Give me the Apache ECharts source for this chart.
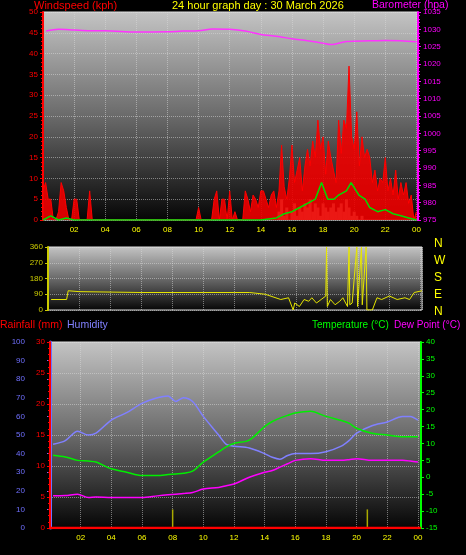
<!DOCTYPE html>
<html>
<head>
<meta charset="utf-8">
<script src="https://cdn.jsdelivr.net/npm/echarts@6/dist/echarts.min.js"></script>
<style>
  html, body { margin: 0; padding: 0; background: #000; }
  #chart { width: 466px; height: 555px; }
</style>
</head>
<body>
<div id="chart"></div>
<script>
// ---------------- data ----------------

// wind gust, one value every 10 minutes from 00:00 (kph)
const gust = [
    7, 9, 5, 5, 0, 0,
    2, 9, 7, 3, 0, 0,
    5, 5, 0, 0, 0, 0,
    7, 0, 0, 0, 0, 0,
    0, 0, 0, 0, 0, 0,
    0, 0, 0, 0, 0, 0,
    0, 0, 0, 0, 0, 0,
    0, 0, 0, 0, 0, 0,
    0, 0, 0, 0, 0, 0,
    0, 0, 0, 0, 0, 0,
    3, 0, 0, 0, 0, 0,
    5, 7, 0, 5, 5, 0,
    7, 0, 2, 0, 0, 0,
    7, 5, 2, 6, 5, 3,
    7, 7, 5, 3, 6, 7,
    3, 7, 18, 8, 5, 10,
    18, 9, 12, 15, 7, 13,
    17, 13, 19, 15, 24, 17,
    20, 11, 19, 15, 12, 9,
    24, 16, 24, 22, 37, 20,
    17, 26, 13, 20, 15, 17,
    15, 9, 12, 7, 10, 9,
    15, 7, 10, 6, 12, 5,
    9, 6, 9, 4, 6, 0,
    2,
];

// average wind speed bars, every 10 minutes from 15:00
const avgBars = [
    0, 2, 5, 1, 3, 0,
    2, 4, 1, 3, 2, 4,
    3, 5, 2, 4, 3, 1,
    4, 3, 2, 3, 4, 2,
    3, 4, 2, 5, 3, 1,
    2, 1, 0, 1, 0, 0,
];

const windAvgHours = [0, 0.5, 1, 1.5, 2, 14, 15, 15.5, 16, 16.5, 17, 17.5, 17.9, 18.3, 18.7, 19, 19.5, 19.8, 20.3, 20.7, 21, 21.5, 22, 22.5, 23, 23.5, 24];
const windAvg      = [0, 1, 0, 0.5, 0, 0, 0.5, 1.5, 2, 3, 4, 5, 9, 5, 5, 6, 7, 9, 6, 5, 3, 2, 2.5, 1.5, 1, 0.5, 0];

const baroHours = [0.2, 1, 2, 3, 4, 6, 8, 9, 10, 10.9, 12, 13, 14, 15, 16, 17, 18, 18.5, 19.5, 21, 22, 23, 24];
const baro      = [1029.5, 1030, 1029.8, 1029.6, 1029.6, 1029.2, 1029.3, 1029.5, 1029.6, 1030.1, 1030, 1029.5, 1028.5, 1028, 1027.3, 1026.7, 1026, 1025.6, 1026.5, 1026.7, 1026.8, 1026.7, 1026.4];

const dirHours = [0.2, 1.2, 1.3, 2, 6, 10, 12, 13, 14, 15, 15.5, 15.8, 15.9, 16.2, 16.5, 16.8, 17, 17.3, 17.6, 17.9, 17.95, 18.0, 18.2, 18.5, 18.8, 19.0, 19.3, 19.4, 19.45, 19.6, 19.9, 19.95, 20.0, 20.2, 20.25, 20.3, 20.5, 20.55, 20.6, 20.9, 21.2, 21.5, 22, 22.5, 23, 23.3, 23.6, 24.1];
const dirs     = [60, 60, 110, 105, 100, 100, 100, 100, 90, 60, 70, 0, 40, 20, 60, 50, 70, 40, 60, 80, 360, 20, 60, 30, 50, 70, 20, 360, 30, 40, 360, 20, 10, 360, 30, 20, 360, 0, 10, 0, 70, 60, 80, 60, 70, 60, 100, 110];

const bottomHours = [0.2, 1, 1.8, 2.5, 3, 4, 5, 6, 7, 7.7, 8.2, 8.7, 9.3, 10, 11, 11.5, 12, 13, 14, 14.5, 15, 15.5, 16, 17, 18, 19, 19.5, 20, 21, 22, 23, 23.5, 24];
const humidity    = [45, 47, 52, 50, 51, 58, 62, 67, 70, 71, 68, 70, 68, 60, 50, 45, 44, 43, 40, 38, 37, 39, 40, 40, 41, 44, 47, 51, 55, 57, 60, 60, 58];
const temp        = [6.5, 6, 5, 4.8, 4.5, 2.5, 1.5, 0.5, 0.5, 0.8, 1, 1.2, 1.8, 4.5, 7.5, 9, 10, 11, 15, 16.5, 17.5, 18.3, 19, 19.5, 18, 16.8, 16, 14.5, 13, 12.5, 12, 12, 12];
const dewPoint    = [-5.5, -5.4, -5, -6, -5.8, -6, -6, -6, -5.5, -5.2, -5, -4.8, -4.5, -3.5, -3, -2.5, -2, 0, 1.5, 2, 3, 4, 5, 5.5, 5, 5, 5.2, 5.5, 5, 5, 5, 4.8, 4.5];
const rainMarkHours = [8, 20.7];
const rainMarks     = [10, 10];

// ---------------- helpers ----------------

const pairs = (xs, ys) => xs.map((x, i) => [x, ys[i]]);
const everyTen = (vals, start) => vals.map((v, i) => [start + i / 6, v]);
const hourLabel = (v) => String(v % 24).padStart(2, "0");

const bg = {
    type: "linear", x: 0, y: 0, x2: 0, y2: 1,
    colorStops: [{ offset: 0, color: "#c4c4c4" }, { offset: 0.5, color: "#6a6a6a" }, { offset: 1, color: "#050505" }],
};
const dotted = { color: "rgba(220,220,220,0.5)", type: "dotted", width: 1 };
const font = "Liberation Sans, Arial, sans-serif";

function title(text, left, top, color, size = 11) {
    return { text, left, top, padding: 0, textStyle: { color, fontSize: size, fontWeight: "normal", fontFamily: font } };
}

function xAxis(gridIndex, min, max, show) {
    return {
        type: "value", gridIndex, min, max, interval: 2,
        axisLine: { show: false },
        axisTick: { show: false },
        axisLabel: { show, color: "#ffff00", fontSize: 8, fontFamily: font, formatter: (v) => (v === 0 ? "" : hourLabel(v)), margin: 6 },
        splitLine: { show: true, lineStyle: dotted },
    };
}

function yAxis(gridIndex, opts) {
    return Object.assign({
        type: "value", gridIndex,
        axisLine: { show: true, lineStyle: { color: opts.color, width: 2 } },
        axisTick: { show: true, length: 3, lineStyle: { color: opts.color } },
        minorTick: { show: true, splitNumber: 5, length: 2, lineStyle: { color: opts.color } },
        axisLabel: { color: opts.color, fontSize: 8, fontFamily: font, margin: 5, formatter: (v) => String(v) },
        splitLine: { show: false },
    }, opts.extra);
}

// ---------------- chart ----------------

const chart = echarts.init(document.getElementById("chart"));

chart.setOption({
    backgroundColor: "#000",
    animation: false,
    title: [
        title("Windspeed (kph)", 34, 0, "#ff0000"),
        title("24 hour graph day : 30 March 2026", 172, 0, "#ffff00"),
        title("Barometer (hpa)", 372, 0, "#ff00ff", 10.5),
        title("Rainfall (mm)", 0, 320, "#ff0000", 10.5),
        title("Humidity", 67, 320, "#8080ff", 10.5),
        title("Temperature (°C)", 312, 320, "#00ff00", 10),
        title("Dew Point (°C)", 394, 320, "#ff00ff", 10),
    ],
    graphic: ["N", "W", "S", "E", "N"].map((t, i) => ({
        type: "text", left: 434, top: 238 + i * 17,
        style: { text: t, fill: "#ffff00", fontSize: 12, fontFamily: font },
    })),
    grid: [
        { left: 43, right: 48, top: 12, bottom: 335, show: true, backgroundColor: bg, borderColor: "#ddd", borderWidth: 1 },
        { left: 48, right: 44, top: 247, bottom: 245, show: true, backgroundColor: bg, borderColor: "#ddd", borderWidth: 1 },
        { left: 50, right: 45, top: 342, bottom: 27, show: true, backgroundColor: bg, borderColor: "#ddd", borderWidth: 1 },
    ],
    xAxis: [
        xAxis(0, 0, 24.1, true),
        xAxis(1, 0, 24.1, false),
        xAxis(2, 0, 24.2, true),
    ],
    yAxis: [
        yAxis(0, { color: "#ff0000", extra: { position: "left", min: 0, max: 50, interval: 5, splitLine: { show: true, lineStyle: dotted } } }),
        yAxis(0, { color: "#ff00ff", extra: { position: "right", min: 975, max: 1035, interval: 5 } }),
        yAxis(1, { color: "#cccc00", extra: { position: "left", min: 0, max: 360, interval: 90, minorTick: { show: false }, splitLine: { show: true, lineStyle: dotted } } }),
        yAxis(2, { color: "#7070ff", extra: { position: "left", min: 0, max: 100, interval: 10, offset: 20, axisLine: { show: true, lineStyle: { color: "#7070ff", width: 3 } }, minorTick: { show: false } } }),
        yAxis(2, { color: "#ff0000", extra: { position: "left", offset: 0, min: 0, max: 30, interval: 5, splitLine: { show: true, lineStyle: dotted } } }),
        yAxis(2, { color: "#00ff00", extra: { position: "right", min: -15, max: 40, interval: 5, minorTick: { show: false } } }),
    ],
    series: [
        {
            name: "Gust", type: "line", xAxisIndex: 0, yAxisIndex: 0, data: everyTen(gust, 0),
            symbol: "none", lineStyle: { color: "#ff0000", width: 1 }, areaStyle: { color: "#ee0000", opacity: 0.9 },
        },
        {
            name: "Avg bars", type: "bar", xAxisIndex: 0, yAxisIndex: 0, data: everyTen(avgBars, 15),
            barWidth: 3, itemStyle: { color: "#ccf0cc" },
        },
        {
            name: "Avg", type: "line", xAxisIndex: 0, yAxisIndex: 0, data: pairs(windAvgHours, windAvg),
            symbol: "none", lineStyle: { color: "#00dd00", width: 1.5 },
        },
        {
            name: "Barometer", type: "line", xAxisIndex: 0, yAxisIndex: 1, data: pairs(baroHours, baro),
            symbol: "none", smooth: 0.3, lineStyle: { color: "#ff33ff", width: 1.5 },
        },
        {
            name: "Direction", type: "line", xAxisIndex: 1, yAxisIndex: 2, data: pairs(dirHours, dirs),
            symbol: "none", lineStyle: { color: "#e6e600", width: 1 },
        },
        {
            name: "Rain marks", type: "bar", xAxisIndex: 2, yAxisIndex: 3, data: pairs(rainMarkHours, rainMarks),
            barWidth: 1.5, itemStyle: { color: "#aaaa00" },
        },
        {
            name: "Rainfall", type: "line", xAxisIndex: 2, yAxisIndex: 4, data: [[0, 0], [24.2, 0]],
            symbol: "none", lineStyle: { color: "#ff0000", width: 2.5 },
        },
        {
            name: "Humidity", type: "line", xAxisIndex: 2, yAxisIndex: 3, data: pairs(bottomHours, humidity),
            symbol: "none", smooth: 0.3, lineStyle: { color: "#8080ff", width: 1.5 },
        },
        {
            name: "Temperature", type: "line", xAxisIndex: 2, yAxisIndex: 5, data: pairs(bottomHours, temp),
            symbol: "none", smooth: 0.3, lineStyle: { color: "#00ee00", width: 1.5 },
        },
        {
            name: "Dew Point", type: "line", xAxisIndex: 2, yAxisIndex: 5, data: pairs(bottomHours, dewPoint),
            symbol: "none", smooth: 0.3, lineStyle: { color: "#ff00ff", width: 1.5 },
        },
    ],
});
</script>
</body>
</html>
